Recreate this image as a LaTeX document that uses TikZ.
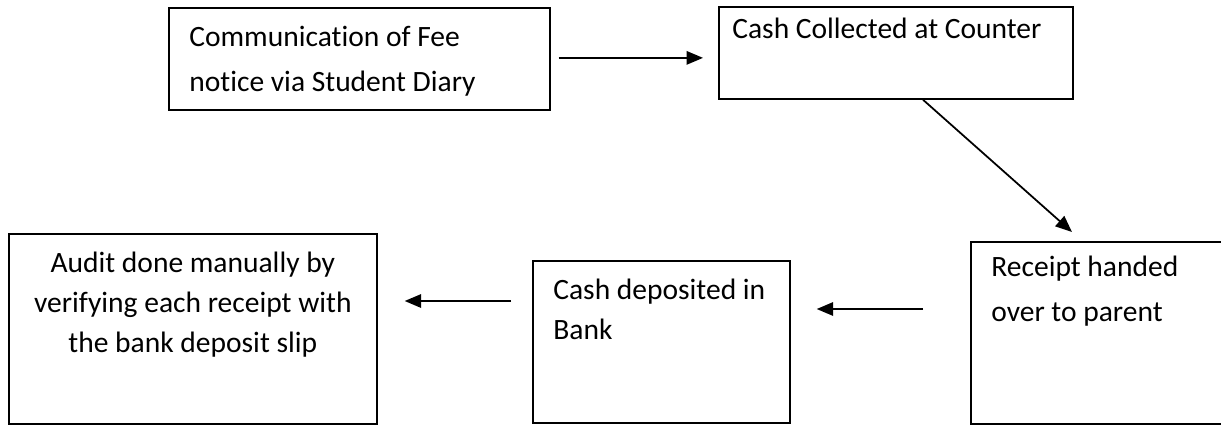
\documentclass[tikz,border=0pt]{standalone}
\usepackage{fontspec}
\setmainfont[Ligatures=NoCommon]{Carlito}
\usetikzlibrary{calc,arrows.meta}
\tikzset{
	box/.style={draw, rectangle, line width=1pt, inner sep=0pt, anchor=north west},
	txt/.style={inner sep=0pt, align=left, anchor=base west, font=\fontsize{16.8}{25.5}\selectfont},
	txttight/.style={txt, font=\fontsize{16.8}{22.5}\selectfont},
	arr/.style={line width=1pt, -{Triangle[length=0.33cm,width=0.27cm]}}
}
\begin{document}
\begin{tikzpicture}[x=0.02cm, y=-0.02cm]
		%%%%% START %%%%%
		\useasboundingbox (0,0) rectangle (1221,424);
		
		% boxes
		\node[box, minimum width=7.62cm, minimum height=2.04cm] (fee) at (168,7) {};
		\node[box, minimum width=7.08cm, minimum height=1.84cm] (counter) at (718,6) {};
		\node[box, minimum width=5.12cm, minimum height=3.64cm] (receipt) at (970,241) {};
		\node[box, minimum width=5.14cm, minimum height=3.24cm] (bank) at (532,260) {};
		\node[box, minimum width=7.36cm, minimum height=3.80cm] (audit) at (8,233) {};
		
		% texts (base = last line)
		\node[txt] (feetext) at ($(fee.north west)+(21,84)$) {Communication of Fee\\notice via Student Diary};
		\node[txt] (countertext) at ($(counter.north west)+(14,32)$) {Cash Collected at Counter};
		\node[txt] (receipttext) at ($(receipt.north west)+(21,80)$) {Receipt handed\\over to parent};
		\node[txttight] (banktext) at ($(bank.north west)+(21,79)$) {Cash deposited in\\Bank};
		\node[txttight, align=center, anchor=base] (audittext) at ($(audit.north)+(0,119)$) {Audit done manually by\\verifying each receipt with\\the bank deposit slip};
		
		% arrows
		\draw[arr] ($(fee.east)+(8,-1)$) -- ($(fee.east -| counter.west)+(-15,-1)$);
		\draw[arr] ($(counter.south west)+(205,0)$) -- ($(receipt.north west)+(102,-9)$);
		\draw[arr] ($(receipt.north west)+(-47,68)$) -- ($(bank.north east)+(26,49)$);
		\draw[arr] ($(bank.north west)+(-21,41)$) -- ($(audit.north east)+(27,68)$);
		
		%%%%% END %%%%%
\end{tikzpicture}
\end{document}
